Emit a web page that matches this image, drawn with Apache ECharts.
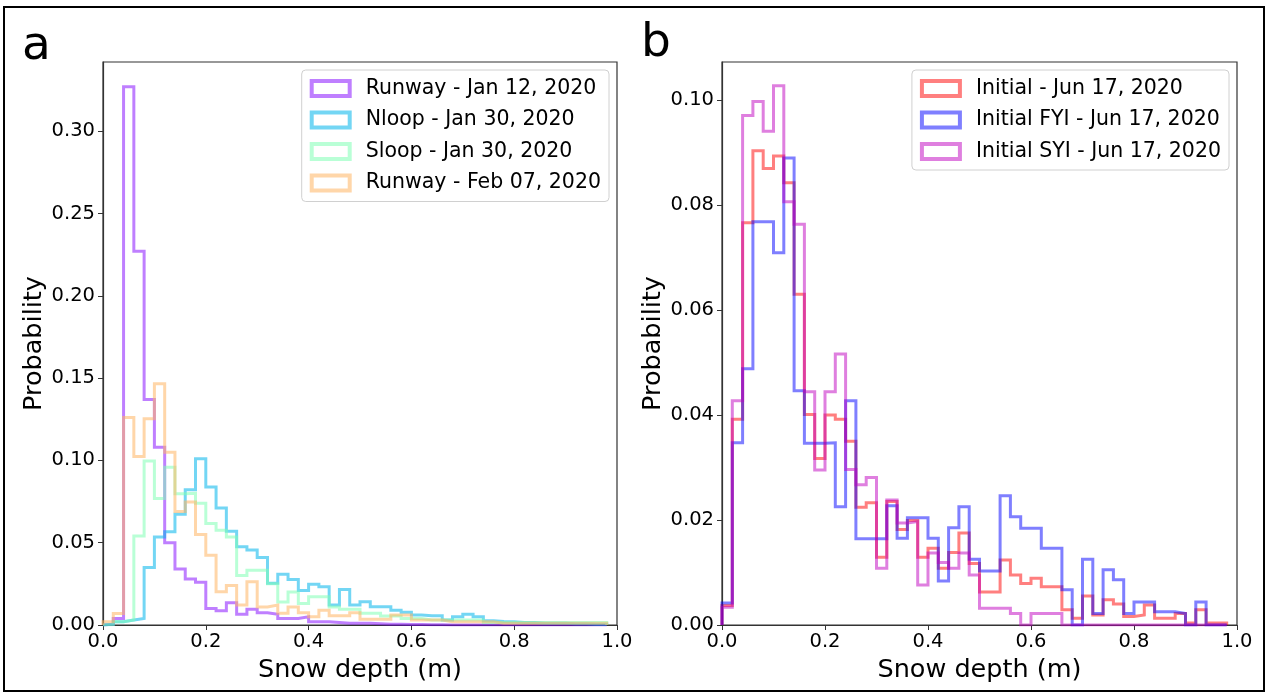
<!DOCTYPE html>
<html>
<head>
<meta charset="utf-8">
<title>Snow depth histograms</title>
<script src="https://cdn.jsdelivr.net/npm/echarts@6/dist/echarts.min.js"></script>
<style>
	html, body { margin: 0; padding: 0; background: #fff; }
	#main { width: 1268px; height: 697px; }
</style>
</head>
<body>
<div id="main"></div>
<script>
// bin edges (m), same for every histogram
var binEdges = [0.00, 0.02, 0.04, 0.06, 0.08, 0.10, 0.12, 0.14, 0.16, 0.18,
	0.20, 0.22, 0.24, 0.26, 0.28, 0.30, 0.32, 0.34, 0.36, 0.38,
	0.40, 0.42, 0.44, 0.46, 0.48, 0.50, 0.52, 0.54, 0.56, 0.58,
	0.60, 0.62, 0.64, 0.66, 0.68, 0.70, 0.72, 0.74, 0.76, 0.78,
	0.80, 0.82, 0.84, 0.86, 0.88, 0.90, 0.92, 0.94, 0.96, 0.98];

// panel a
var namesA = ['Runway - Jan 12, 2020', 'Nloop - Jan 30, 2020', 'Sloop - Jan 30, 2020', 'Runway - Feb 07, 2020'];
var runwayJan12 = [
	0.0005, 0.004, 0.327, 0.227, 0.137, 0.108, 0.050, 0.034, 0.028, 0.026,
	0.010, 0.0087, 0.0135, 0.0065, 0.0095, 0.0075, 0.0065, 0.004, 0.004, 0.005,
	0.002, 0.002, 0.0015, 0.001, 0.001, 0.001, 0.0008, 0.0005, 0.0005, 0.0003,
	0.0003, 0.0002, 0.0002, 0, 0, 0, 0, 0, 0, 0,
	0, 0, 0, 0, 0, 0, 0, 0, 0];
var nloopJan30 = [
	0.0005, 0.002, 0.003, 0.004, 0.035, 0.0535, 0.0566, 0.0673, 0.0822, 0.101,
	0.0838, 0.0711, 0.057, 0.0475, 0.0455, 0.041, 0.0253, 0.0309, 0.0277, 0.021,
	0.0248, 0.0232, 0.0121, 0.0216, 0.0121, 0.0141, 0.0111, 0.0111, 0.009, 0.0077,
	0.006, 0.0056, 0.0056, 0.003, 0.005, 0.0065, 0.005, 0.0026, 0.0022, 0.002,
	0.0015, 0.0015, 0.001, 0.001, 0.001, 0.0008, 0.0008, 0.0005, 0.0005];
var sloopJan30 = [
	0.0003, 0.002, 0.003, 0.054, 0.0996, 0.0768, 0.0958, 0.0798, 0.080, 0.074,
	0.0616, 0.0576, 0.0535, 0.030, 0.0333, 0.0333, 0.025, 0.014, 0.020, 0.013,
	0.0172, 0.0172, 0.011, 0.0095, 0.0095, 0.0071, 0.0071, 0.0055, 0.0055, 0.004,
	0.004, 0.003, 0.003, 0.003, 0.003, 0.003, 0.003, 0.0015, 0.0015, 0.0015,
	0.0015, 0.0015, 0.0015, 0.0015, 0.0015, 0.0015, 0.0015, 0.0015, 0.0015];
var runwayFeb07 = [
	0.002, 0.007, 0.126, 0.1024, 0.1253, 0.1465, 0.105, 0.069, 0.0747, 0.055,
	0.0424, 0.0202, 0.024, 0.0121, 0.0263, 0.011, 0.0121, 0.0071, 0.011, 0.0075,
	0.005, 0.009, 0.0056, 0.0056, 0.0075, 0.0035, 0.0035, 0.0035, 0.006, 0.006,
	0.003, 0.003, 0.003, 0.002, 0.002, 0.002, 0.002, 0.002, 0.001, 0.001,
	0.001, 0.001, 0.001, 0.001, 0.001, 0.001, 0.001, 0.001, 0.001];
var colorsA = ['rgba(128,0,255,0.5)', 'rgba(0,180,235,0.55)', 'rgba(128,255,180,0.55)', 'rgba(255,180,98,0.55)'];

// panel b
var namesB = ['Initial - Jun 17, 2020', 'Initial FYI - Jun 17, 2020', 'Initial SYI - Jun 17, 2020'];
var initialAll = [
	0.0037, 0.0392, 0.0766, 0.0903, 0.0869, 0.0893, 0.0842, 0.063, 0.0401, 0.0317,
	0.040, 0.0392, 0.035, 0.0224, 0.0233, 0.0129, 0.0235, 0.0182, 0.0199, 0.0129,
	0.0146, 0.0108, 0.0138, 0.0175, 0.0117, 0.0063, 0.0063, 0.0124, 0.0095, 0.0079,
	0.0089, 0.0073, 0.0073, 0.0029, 0.0013, 0.0055, 0.0019, 0.0048, 0.004, 0.0016,
	0.0019, 0.0038, 0.0013, 0.0013, 0.0022, 0.0004, 0.0029, 0.0004, 0.0004];
var initialFYI = [
	0.0042, 0.0347, 0.0488, 0.0768, 0.0768, 0.0709, 0.0889, 0.0446, 0.0346, 0.0346,
	0.0347, 0.0225, 0.0427, 0.0164, 0.0164, 0.0164, 0.0227, 0.0165, 0.0204, 0.0204,
	0.0165, 0.0084, 0.0185, 0.0225, 0.0125, 0.0103, 0.0103, 0.0246, 0.0206, 0.0184,
	0.0184, 0.0146, 0.0146, 0.0067, 0, 0.0125, 0.0022, 0.0105, 0.0086, 0.0022,
	0.0044, 0.0044, 0.0025, 0.0025, 0.0022, 0, 0.0044, 0, 0];
var initialSYI = [
	0.0034, 0.0427, 0.097, 0.0997, 0.094, 0.1027, 0.0806, 0.0763, 0.0444, 0.0295,
	0.0444, 0.0516, 0.0296, 0.0267, 0.0281, 0.0108, 0.0238, 0.0194, 0.0197, 0.0076,
	0.0137, 0.0119, 0.0108, 0.0137, 0.0095, 0.0032, 0.0032, 0.0032, 0.0022, 0,
	0.0022, 0.0022, 0.0022, 0, 0, 0, 0, 0, 0, 0,
	0, 0, 0, 0, 0, 0, 0, 0, 0];
var colorsB = ['rgba(255,0,0,0.5)', 'rgba(0,0,255,0.5)', 'rgba(191,0,191,0.5)'];

var FONT = 'DejaVu Sans';

/**
 * histtype='step' outline: up at first edge, across each bin, down at the last edge
 */
function stepPoints(values) {
	var pts = [[binEdges[0], 0]];
	for (var i = 0; i < values.length; i++) {
		pts.push([binEdges[i], values[i]]);
		pts.push([binEdges[i + 1], values[i]]);
	}
	pts.push([binEdges[values.length], 0]);
	return pts;
}

function histSeries(name, values, color, idx) {
	return {
		name: name,
		type: 'line',
		xAxisIndex: idx,
		yAxisIndex: idx,
		data: stepPoints(values),
		showSymbol: false,
		symbol: 'none',
		silent: true,
		animation: false,
		itemStyle: { color: color },
		lineStyle: { color: color, width: 3, join: 'miter' }
	};
}

function legendData(names, colors) {
	var out = [];
	for (var i = 0; i < names.length; i++) {
		out.push({
			name: names[i],
			icon: 'rect',
			itemStyle: { color: 'rgba(0,0,0,0)', borderColor: colors[i], borderWidth: 4 }
		});
	}
	return out;
}

function xAxisOpt(idx) {
	return {
		type: 'value',
		gridIndex: idx,
		min: 0,
		max: 1,
		interval: 0.2,
		name: 'Snow depth (m)',
		nameLocation: 'middle',
		nameGap: 27,
		nameTextStyle: { fontFamily: FONT, fontSize: 25.5, color: '#000' },
		axisLine: { onZero: false, lineStyle: { color: '#333', width: 1.2 } },
		axisTick: { show: true, length: 5, lineStyle: { color: '#333' } },
		axisLabel: {
			margin: 7, fontFamily: FONT, fontSize: 19.5, color: '#000',
			formatter: function(v) { return v.toFixed(1); }
		},
		splitLine: { show: false }
	};
}

function yAxisOpt(idx, max, interval) {
	return {
		type: 'value',
		gridIndex: idx,
		min: 0,
		max: max,
		interval: interval,
		name: 'Probability',
		nameLocation: 'middle',
		nameGap: 55,
		nameTextStyle: { fontFamily: FONT, fontSize: 25.5, color: '#000' },
		axisLine: { show: true, lineStyle: { color: '#333', width: 1.2 } },
		axisTick: { show: true, length: 5, lineStyle: { color: '#333' } },
		axisLabel: {
			margin: 8, fontFamily: FONT, fontSize: 19.5, color: '#000', showMaxLabel: false,
			formatter: function(v) { return v.toFixed(2); }
		},
		splitLine: { show: false }
	};
}

function legendOpt(names, colors, right, idxName) {
	return {
		id: idxName,
		data: legendData(names, colors),
		orient: 'vertical',
		right: right,
		top: 70,
		itemWidth: 38,
		itemHeight: 15,
		itemGap: 10.5,
		padding: [8, 8, 8, 8],
		backgroundColor: 'rgba(255,255,255,0.8)',
		borderColor: '#d0d0d0',
		borderWidth: 1,
		borderRadius: 4,
		selectedMode: false,
		textStyle: { fontFamily: FONT, fontSize: 20.5, color: '#000', padding: [0, 0, 0, 11] }
	};
}

function initChart() {
	var series = [];
	series.push(histSeries(namesA[0], runwayJan12, colorsA[0], 0));
	series.push(histSeries(namesA[1], nloopJan30, colorsA[1], 0));
	series.push(histSeries(namesA[2], sloopJan30, colorsA[2], 0));
	series.push(histSeries(namesA[3], runwayFeb07, colorsA[3], 0));
	series.push(histSeries(namesB[0], initialAll, colorsB[0], 1));
	series.push(histSeries(namesB[1], initialFYI, colorsB[1], 1));
	series.push(histSeries(namesB[2], initialSYI, colorsB[2], 1));

	var option = {
		backgroundColor: '#fff',
		animation: false,
		grid: [
			{ left: 103, top: 62, width: 514, height: 563, show: true, borderColor: '#333', borderWidth: 1.2, backgroundColor: 'transparent' },
			{ left: 722, top: 62, width: 515, height: 563, show: true, borderColor: '#333', borderWidth: 1.2, backgroundColor: 'transparent' }
		],
		xAxis: [xAxisOpt(0), xAxisOpt(1)],
		yAxis: [yAxisOpt(0, 0.342, 0.05), yAxisOpt(1, 0.1072, 0.02)],
		legend: [
			legendOpt(namesA, colorsA, 1268 - 609, 'legA'),
			legendOpt(namesB, colorsB, 1268 - 1229, 'legB')
		],
		graphic: [
			{
				type: 'rect',
				shape: { x: 4, y: 7, width: 1260, height: 684 },
				style: { fill: 'none', stroke: '#000', lineWidth: 2 },
				silent: true
			},
			{
				type: 'text', x: 22, y: 47,
				style: { text: 'a', font: '47px "DejaVu Sans"', fill: '#000', verticalAlign: 'middle' }
			},
			{
				type: 'text', x: 641, y: 44,
				style: { text: 'b', font: '47px "DejaVu Sans"', fill: '#000', verticalAlign: 'middle' }
			}
		],
		series: series
	};
	var myChart = echarts.init(document.getElementById('main'));
	myChart.setOption(option);
}

initChart();
</script>
</body>
</html>
